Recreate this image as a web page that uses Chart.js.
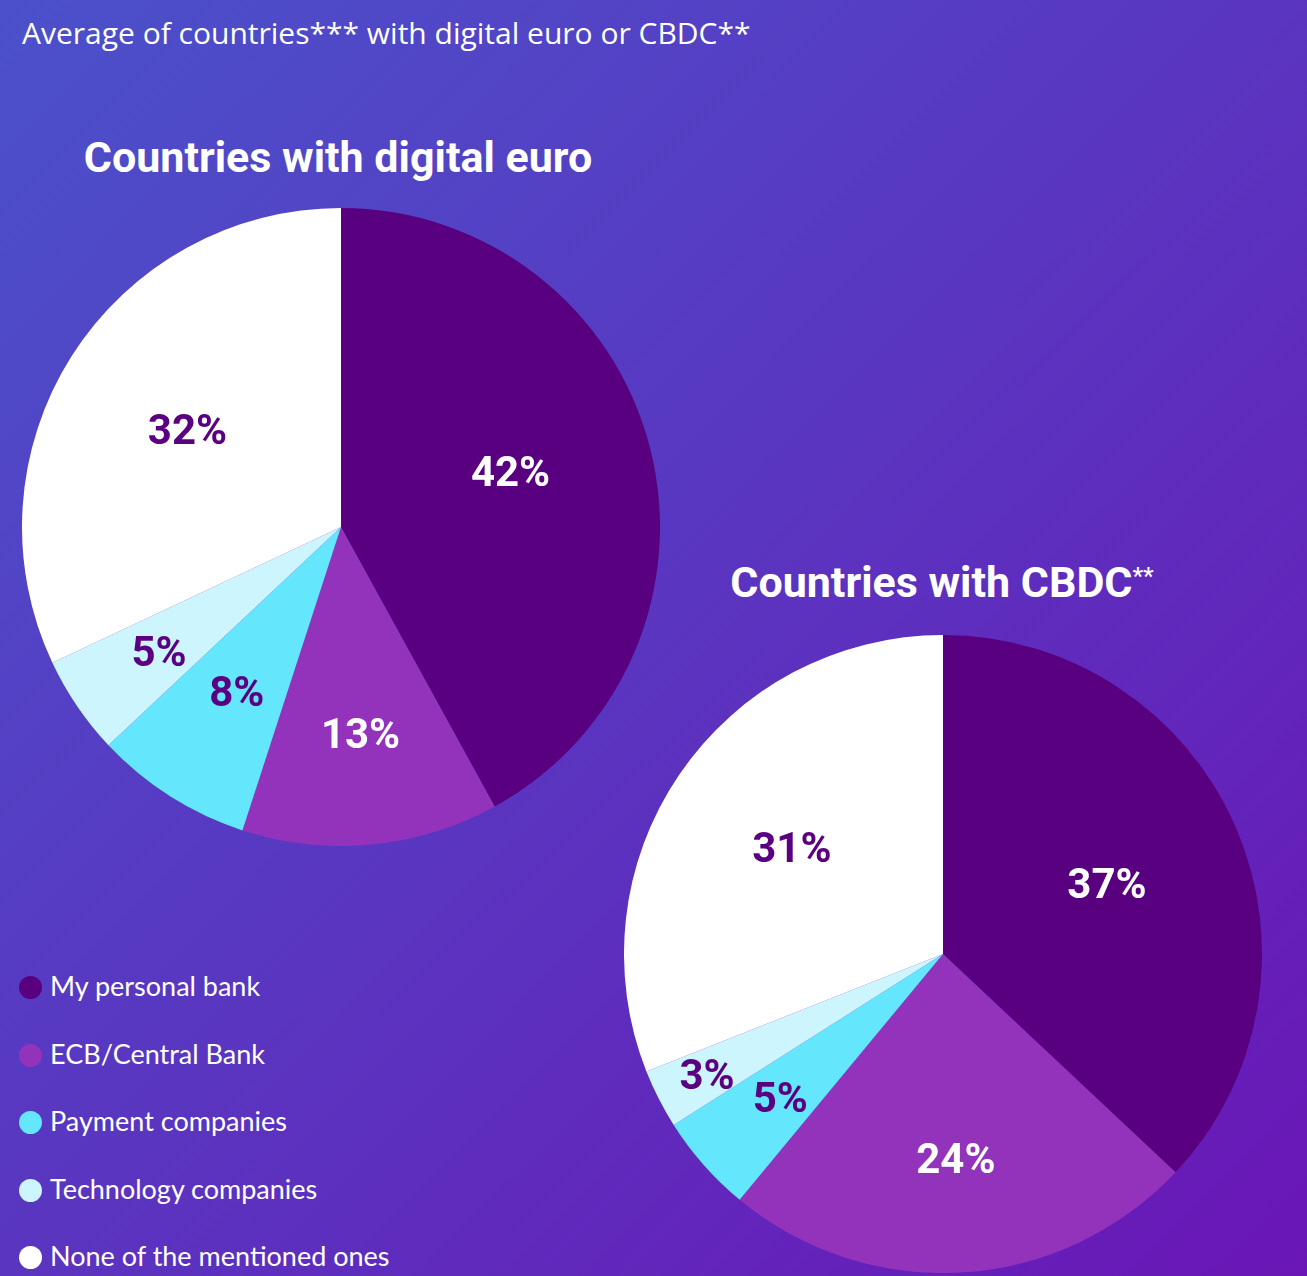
<!DOCTYPE html>
<html>
<head>
<meta charset="utf-8">
<script src="https://cdn.jsdelivr.net/npm/chart.js@4.4.0/dist/chart.umd.min.js"></script>
<style>
  html, body { margin:0; padding:0; }
  body {
    width:1307px; height:1276px; overflow:hidden; position:relative;
    background: linear-gradient(135deg, #4b51ca 0%, #5a35c0 50%, #6a16b6 100%);
    font-family: Lato, "Open Sans", sans-serif; color:#fff;
  }
  .sub { position:absolute; left:22px; top:12px; font-family:"Open Sans", sans-serif; font-size:30px; white-space:nowrap; }
  .title { position:absolute; font-family: Roboto, Inter, sans-serif; font-weight:700; font-size:43px; line-height:43px; white-space:nowrap; transform:translateX(-50%); }
  .title sup { font-size:24px; vertical-align: top; position:relative; top:-6px; font-weight:500; }
  .box { position:absolute; width:638px; height:638px; }
  #legend { position:absolute; left:19px; top:969px; }
  .li { position:relative; height:67.5px; font-size:27px; white-space:nowrap; }
  .li span.dot { position:absolute; left:0; top:7px; width:23px; height:23px; border-radius:50%; }
  .li span.t { position:absolute; left:31px; top:0; }
</style>
</head>
<body>
<div class="sub">Average of countries*** with digital euro or CBDC**</div>
<div class="title" style="left:338px; top:136px;">Countries with digital euro</div>
<div class="title" style="left:942px; top:561px;">Countries with CBDC<sup>**</sup></div>
<div class="box" style="left:22px; top:208px;"><canvas id="c1"></canvas></div>
<div class="box" style="left:624px; top:635px;"><canvas id="c2"></canvas></div>
<div id="legend"></div>
<script>
const categories = ["My personal bank", "ECB/Central Bank", "Payment companies", "Technology companies", "None of the mentioned ones"];
const digitalEuroValues = [42, 13, 8, 5, 32];
const cbdcValues = [37, 24, 5, 3, 31];
const sliceColors = ["#590080", "#9333bb", "#64e7fd", "#ccf5fd", "#ffffff"];
const labelColors = ["#ffffff", "#ffffff", "#5a0080", "#5a0080", "#5a0080"];

const lg = document.getElementById('legend');
categories.forEach((c, i) => {
  const d = document.createElement('div'); d.className = 'li';
  d.innerHTML = '<span class="dot" style="background:' + sliceColors[i] + '"></span><span class="t">' + c + '</span>';
  lg.appendChild(d);
});

const pctLabels = {
  id: 'pctLabels',
  afterDatasetsDraw(chart, args, opts) {
    const ctx = chart.ctx;
    const meta = chart.getDatasetMeta(0);
    const data = chart.data.datasets[0].data;
    const size = 42;
    ctx.save();
    ctx.font = '700 ' + size + 'px Roboto, Inter, sans-serif';
    ctx.textAlign = 'center';
    ctx.textBaseline = 'alphabetic';
    meta.data.forEach((arc, i) => {
      const p = arc.getProps(['x','y','startAngle','endAngle','outerRadius'], true);
      const mid = (p.startAngle + p.endAngle) / 2 + (opts.angleShift[i] || 0) * Math.PI / 180;
      const r = p.outerRadius * opts.fractions[i];
      ctx.fillStyle = labelColors[i];
      ctx.fillText(data[i] + '%', p.x + Math.cos(mid) * r, p.y + Math.sin(mid) * r + size * 0.355);
    });
    ctx.restore();
  }
};

function makePie(id, values, fractions, angleShift) {
  return new Chart(document.getElementById(id), {
    type: 'pie',
    data: { labels: categories, datasets: [{ data: values, backgroundColor: sliceColors, borderWidth: 0 }] },
    options: {
      responsive: true, maintainAspectRatio: false, animation: false,
      layout: { padding: 0 },
      plugins: { legend: { display: false }, tooltip: { enabled: false }, pctLabels: { fractions, angleShift } }
    },
    plugins: [pctLabels]
  });
}
makePie('c1', digitalEuroValues, [0.56, 0.65, 0.61, 0.69, 0.57], [-4, 0, 0, 0, 0]);
makePie('c2', cbdcValues, [0.56, 0.64, 0.68, 0.83, 0.58], [0, 0, 0, 0, 1]);
</script>
</body>
</html>
